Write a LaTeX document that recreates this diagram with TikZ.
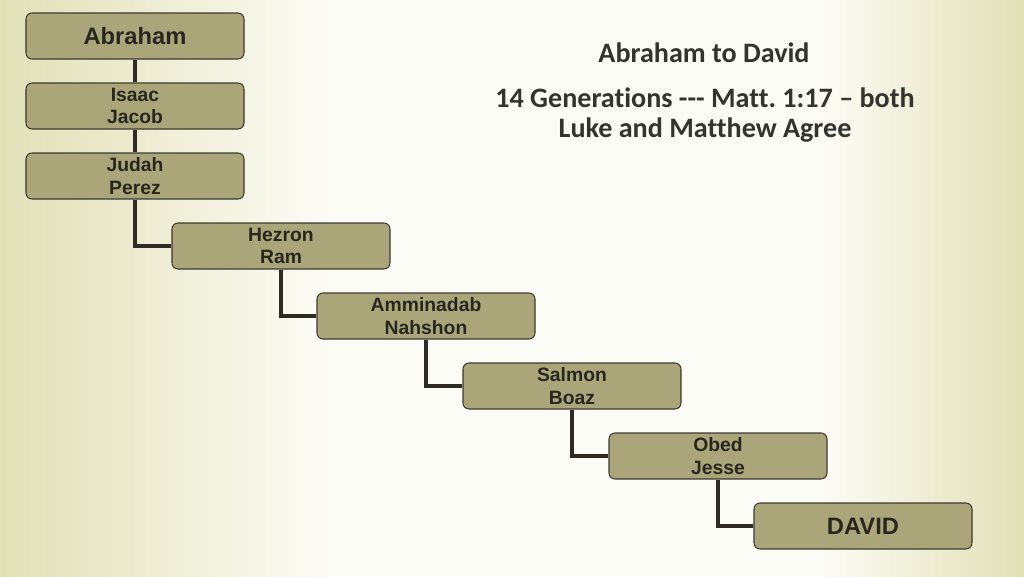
\documentclass[tikz,border=0pt]{standalone}
\usepackage{fontspec}
\setmainfont{Liberation Sans}
\newfontfamily\titlefont[Ligatures=NoCommon]{Carlito}
\usetikzlibrary{positioning}
\definecolor{boxfill}{RGB}{170,166,122}
\definecolor{boxline}{RGB}{60,58,48}
\definecolor{linkcol}{RGB}{45,43,34}
\definecolor{textcol}{RGB}{40,38,30}
\definecolor{bgedge}{RGB}{226,224,182}
\definecolor{bgmid}{RGB}{252,252,246}
\definecolor{titlecol}{RGB}{52,52,46}
\tikzset{
  person/.style={draw=boxline, line width=0.6pt, fill=boxfill, rounded corners=1.2mm,
    minimum width=43.6mm, minimum height=9.2mm, align=center, text=textcol,
    font=\bfseries\fontsize{11}{13}\selectfont, inner sep=0pt},
  bigname/.style={person, font=\bfseries\fontsize{13.5}{15}\selectfont},
  link/.style={draw=linkcol, line width=1.8pt},
  title/.style={text=titlecol, align=center, font=\titlefont\bfseries\fontsize{16}{17}\selectfont}
}
\begin{document}
\begin{tikzpicture}[x=0.2mm, y=-0.2mm]
        \useasboundingbox (0,0) rectangle (1024,576);
        \fill[bgmid] (0,0) rectangle (1024,576);
        \shade[left color=bgedge, right color=bgmid] (0,0) rectangle (330,576);
        \shade[left color=bgmid, right color=bgedge] (820,0) rectangle (1024,576);
        %\draw[very thin, gray] (0,0) grid[step=100] (1024,576);

        \node[bigname] (abraham) at (135,36) {Abraham};
        \node[person] (isaac) at (135,106) {Isaac\\Jacob};
        \node[person] (judah) at (135,176) {Judah\\Perez};
        \node[person] (hezron) at (281,246) {Hezron\\Ram};
        \node[person] (amminadab) at (426,316) {Amminadab\\Nahshon};
        \node[person] (salmon) at (572,386) {Salmon\\Boaz};
        \node[person] (obed) at (718,456) {Obed\\Jesse};
        \node[bigname] (david) at (863,526) {DAVID};

        \draw[link] (abraham) -- (isaac);
        \draw[link] (isaac) -- (judah);
        \draw[link] (judah.south) |- (hezron.west);
        \draw[link] (hezron.south) |- (amminadab.west);
        \draw[link] (amminadab.south) |- (salmon.west);
        \draw[link] (salmon.south) |- (obed.west);
        \draw[link] (obed.south) |- (david.west);

        \node[title] (heading) at (704,53) {Abraham to David};
        \node[title] (generations) at (705,115) {14 Generations --- Matt.\ 1:17 – both\\Luke and Matthew Agree};
\end{tikzpicture}
\end{document}
